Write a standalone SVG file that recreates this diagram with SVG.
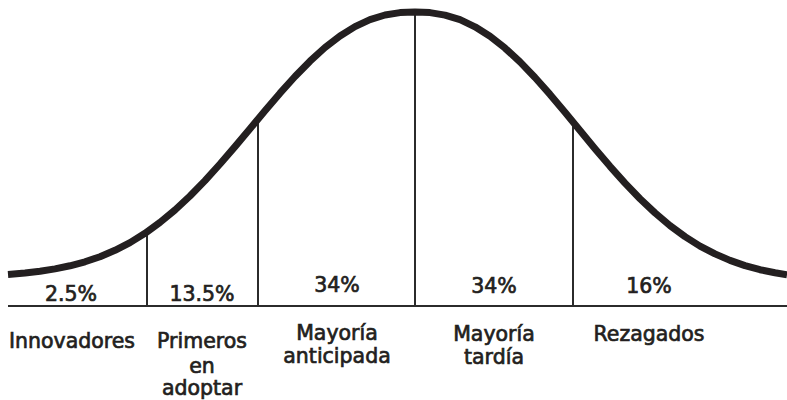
<svg xmlns="http://www.w3.org/2000/svg" width="787" height="400" viewBox="0 0 787 400">
  <style>
    .curve { fill: none; stroke: #231f20; stroke-width: 7; stroke-linejoin: round; }
    .rule { fill: none; stroke: #2b2b2b; stroke-width: 2; }
    text { font-family: "DejaVu Sans", "Liberation Sans", sans-serif; font-size: 20.5px; fill: #231f20; text-anchor: middle; stroke: #231f20; stroke-width: 0.7; }
  </style>
  <rect width="787" height="400" fill="#ffffff"/>
  <g id="connectors">
    <line class="rule" x1="8" y1="306" x2="787" y2="306"/>
    <line class="rule" x1="147" y1="232" x2="147" y2="306"/>
    <line class="rule" x1="258" y1="119" x2="258" y2="306"/>
    <line class="rule" x1="415" y1="12" x2="415" y2="306"/>
    <line class="rule" x1="573" y1="122" x2="573" y2="306"/>
  </g>
  <path id="bell-curve" class="curve" d="M8,274.4 L25,273 L40,271.3 L55,268.9 L70,265.8 L85,261.8 L100,256.7 L115,250.3 L130,242.6 L145,233.3 L160,222.4 L175,210 L190,196 L205,180.6 L220,164 L235,146.6 L250,128.7 L265,110.8 L280,93.2 L295,76.5 L310,61.2 L325,47.5 L340,36 L355,26.6 L370,19.6 L385,15 L400,12.6 L415,12 L430,12.6 L445,15.1 L460,19.7 L475,26.8 L490,36.3 L505,48.1 L520,61.9 L535,77.5 L550,94.4 L565,112.3 L580,130.5 L595,148.7 L610,166.3 L625,183.1 L640,198.7 L655,212.9 L670,225.6 L685,236.6 L700,246.1 L715,253.9 L730,260.4 L745,265.6 L760,269.7 L775,272.8 L787,274.8"/>
  <g id="innovadores">
    <text x="71" y="301">2.5%</text>
    <text x="72" y="348">Innovadores</text>
  </g>
  <g id="primeros">
    <text x="202" y="301">13.5%</text>
    <text x="202" y="348">Primeros</text>
    <text x="202" y="373">en</text>
    <text x="202" y="395">adoptar</text>
  </g>
  <g id="mayoria-anticipada">
    <text x="337" y="292">34%</text>
    <text x="337" y="340">Mayoría</text>
    <text x="337" y="363">anticipada</text>
  </g>
  <g id="mayoria-tardia">
    <text x="494" y="293">34%</text>
    <text x="494" y="341">Mayoría</text>
    <text x="494" y="364">tardía</text>
  </g>
  <g id="rezagados">
    <text x="649" y="293">16%</text>
    <text x="649" y="341">Rezagados</text>
  </g>
</svg>
